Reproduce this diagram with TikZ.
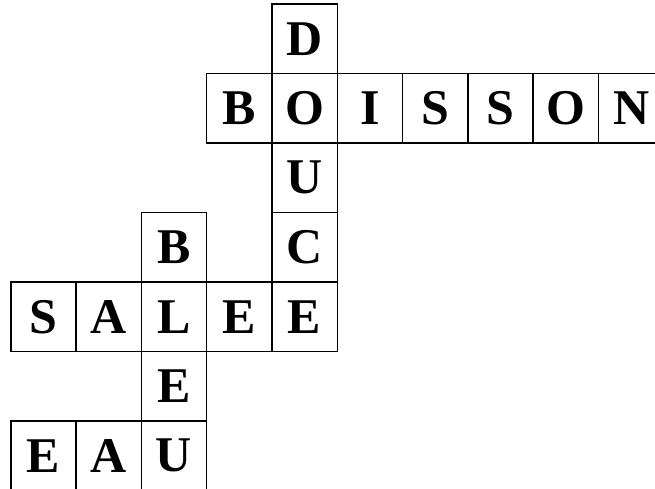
\documentclass[tikz,border=0pt]{standalone}
\usepackage{fontspec}
\setmainfont{Liberation Serif}
\usetikzlibrary{positioning}

\begin{document}
\begin{tikzpicture}[node distance=0pt, letterbox/.style={draw, line width=1.5pt, outer sep=0pt, inner sep=0pt, minimum width=65.3pt, minimum height=69.5pt, font=\fontsize{50}{60}\selectfont\bfseries}]
    \useasboundingbox (0pt,0pt) rectangle (655pt,-488pt);
    % DOUCE (down)
    \node[letterbox] (d1) at (304.6pt,-38.8pt) {D};
    \node[letterbox, below=of d1] (o1) {O};
    \node[letterbox, below=of o1] (u1) {U};
    \node[letterbox, below=of u1] (c1) {C};
    \node[letterbox, below=of c1] (e2) {E};
    % BOISSON (across)
    \node[letterbox, left=of o1] (b1) {B};
    \node[letterbox, right=of o1] (i1) {I};
    \node[letterbox, right=of i1] (s1) {S};
    \node[letterbox, right=of s1] (s2) {S};
    \node[letterbox, right=of s2] (o2) {O};
    \node[letterbox, right=of o2] (n1) {N};
    % SALEE (across)
    \node[letterbox, left=of e2] (e1) {E};
    \node[letterbox, left=of e1] (l1) {L};
    \node[letterbox, left=of l1] (a1) {A};
    \node[letterbox, left=of a1] (s3) {S};
    % BLEU (down)
    \node[letterbox, above=of l1] (b2) {B};
    \node[letterbox, below=of l1] (e3) {E};
    \node[letterbox, below=of e3] (u2) {U};
    % EAU (across)
    \node[letterbox, left=of u2] (a2) {A};
    \node[letterbox, left=of a2] (e4) {E};
\end{tikzpicture}
\end{document}
